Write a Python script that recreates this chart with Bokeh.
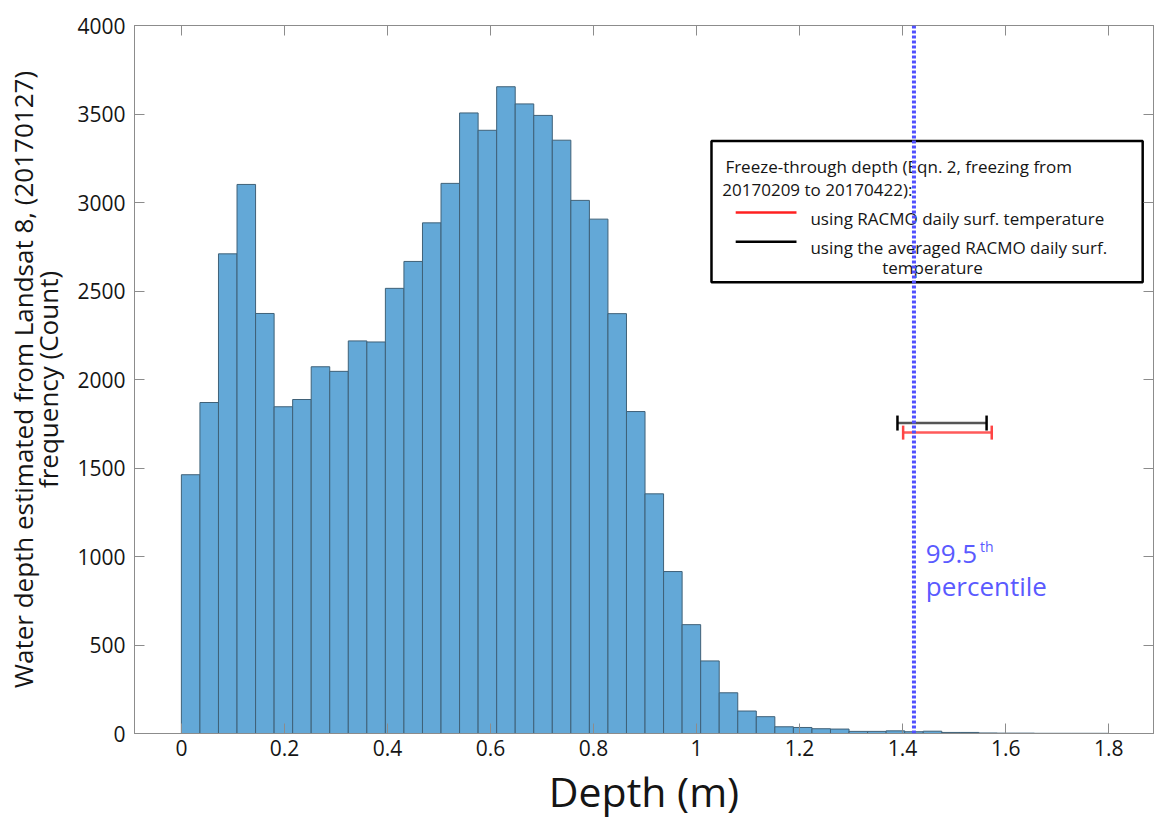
from bokeh.plotting import figure
from bokeh.models import (Span, Whisker, TeeHead, ColumnDataSource, LinearAxis,
                          Range1d, FixedTicker, CustomJSTickFormatter)
from bokeh.core.properties import value
from bokeh.embed import file_html
from bokeh.resources import INLINE

# ---------------- data ----------------
bin_edges = [0.000, 0.036, 0.072, 0.108, 0.144, 0.180, 0.216, 0.252, 0.288, 0.324,
             0.360, 0.396, 0.432, 0.468, 0.504, 0.540, 0.576, 0.612, 0.648, 0.684,
             0.720, 0.756, 0.792, 0.828, 0.864, 0.900, 0.936, 0.972, 1.008, 1.044,
             1.080, 1.116, 1.152, 1.188, 1.224, 1.260, 1.296, 1.332, 1.368, 1.404,
             1.440, 1.476, 1.512, 1.548, 1.584, 1.620, 1.656, 1.692, 1.728, 1.764,
             1.800]
counts = [1462, 1870, 2710, 3102, 2373, 1846, 1887, 2072, 2046, 2218,
          2212, 2515, 2667, 2885, 3108, 3506, 3408, 3654, 3557, 3492,
          3352, 3012, 2906, 2372, 1819, 1354, 915, 615, 410, 230,
          127, 95, 38, 34, 27, 25, 12, 12, 15, 10,
          13, 6, 6, 3, 2, 2, 1, 1, 1, 1]

x_ticks = [0, 0.2, 0.4, 0.6, 0.8, 1.0, 1.2, 1.4, 1.6, 1.8]
y_ticks = [0, 500, 1000, 1500, 2000, 2500, 3000, 3500, 4000]

percentile_995 = 1.422

freeze_base = [1754, 1700]            # vertical placement of the range bars (count axis)
freeze_lower = [1.390, 1.401]         # freeze-through depth lower (m)
freeze_upper = [1.563, 1.573]         # freeze-through depth upper (m)

FONT = value("Open Sans")
GRAY = "#8c8c8c"
TXT = "#151515"

p = figure(width=1156, height=821,
           x_range=Range1d(-0.091, 1.887), y_range=Range1d(0, 4000),
           output_backend="svg", toolbar_location=None,
           min_border_left=134, min_border_top=25, min_border_right=3, min_border_bottom=88)
p.grid.visible = False
p.outline_line_color = GRAY
p.background_fill_color = "white"
p.border_fill_color = "white"

# histogram bars
src = ColumnDataSource(dict(left=bin_edges[:-1], right=bin_edges[1:], top=counts))
p.quad(left="left", right="right", bottom=0, top="top", source=src,
       fill_color="#63a8d7", line_color="#3f6178", line_width=1)

# 99.5th percentile line
p.add_layout(Span(location=percentile_995, dimension="height", line_color="#5050ff",
                  line_width=4, line_dash="3 2"))

# freeze-through depth ranges
w_black = Whisker(source=ColumnDataSource(dict(base=[freeze_base[0]], lower=[freeze_lower[0]],
                                               upper=[freeze_upper[0]])),
                  base="base", lower="lower", upper="upper", dimension="width",
                  line_color="#555555", line_width=2.5,
                  upper_head=TeeHead(size=15, line_color="black", line_width=2.5),
                  lower_head=TeeHead(size=15, line_color="black", line_width=2.5))
w_red = Whisker(source=ColumnDataSource(dict(base=[freeze_base[1]], lower=[freeze_lower[1]],
                                             upper=[freeze_upper[1]])),
                base="base", lower="lower", upper="upper", dimension="width",
                line_color="#ff5a5a", line_width=2.5,
                upper_head=TeeHead(size=14, line_color="#ff4444", line_width=2.5),
                lower_head=TeeHead(size=14, line_color="#ff4444", line_width=2.5))
p.add_layout(w_black)
p.add_layout(w_red)

# percentile text
p.text(x=[1.445], y=[1015], text=["99.5"], text_font=FONT, text_font_size="26px",
       text_color="#5a5aff", text_baseline="alphabetic", text_align="left")
p.text(x=[1.550], y=[1058], text=["th"], text_font=FONT, text_font_size="14px",
       text_color="#5a5aff", text_baseline="alphabetic", text_align="left")
p.text(x=[1.445], y=[833], text=["percentile"], text_font=FONT, text_font_size="26px",
       text_color="#5a5aff", text_baseline="alphabetic", text_align="left")

# legend box (drawn by hand)
p.quad(left=[1.029], right=[1.866], bottom=[2550], top=[3348],
       fill_color="white", line_color="black", line_width=2.5)
p.text(x=[1.056, 1.050], y=[3201, 3071],
       text=["Freeze-through depth (Eqn. 2, freezing from", "20170209 to 20170422):"],
       text_font=FONT, text_font_size="17px", text_color=TXT,
       text_baseline="alphabetic", text_align="left")
p.segment(x0=[1.076], x1=[1.194], y0=[2944], y1=[2944], line_color="#ff2020", line_width=2.5)
p.segment(x0=[1.076], x1=[1.194], y0=[2778], y1=[2778], line_color="black", line_width=2.5)
p.text(x=[1.221, 1.221], y=[2912, 2748],
       text=["using RACMO daily surf. temperature", "using the averaged RACMO daily surf."],
       text_font=FONT, text_font_size="17px", text_color=TXT,
       text_baseline="alphabetic", text_align="left")
p.text(x=[1.458], y=[2635], text=["temperature"],
       text_font=FONT, text_font_size="17px", text_color=TXT,
       text_baseline="alphabetic", text_align="center")

# axes
def style_axis(ax):
    ax.axis_line_color = GRAY
    ax.major_tick_line_color = GRAY
    ax.major_tick_in = 10
    ax.major_tick_out = 0
    ax.minor_tick_line_color = None
    ax.major_label_text_font = "Open Sans"
    ax.major_label_text_color = TXT

xa = p.xaxis[0]
xa.ticker = FixedTicker(ticks=x_ticks)
xa.major_label_overrides = {0: "0", 1.0: "1"}
style_axis(xa)
xa.major_label_text_font_size = "21px"
xa.major_label_standoff = 6
xa.axis_label = "Depth (m)"
xa.axis_label_text_font = "Open Sans"
xa.axis_label_text_font_style = "normal"
xa.axis_label_text_font_size = "41px"
xa.axis_label_text_color = TXT
xa.axis_label_standoff = 4

ya = p.yaxis[0]
ya.ticker = FixedTicker(ticks=y_ticks)
style_axis(ya)
ya.major_label_text_font_size = "21px"
ya.major_label_standoff = 9
ya.axis_label = "Water depth estimated from Landsat 8, (20170127)\nfrequency (Count)"
ya.axis_label_text_font = "Open Sans"
ya.axis_label_text_font_style = "normal"
ya.axis_label_text_font_size = "26px"
ya.axis_label_text_line_height = 0.7
ya.axis_label_text_color = TXT
ya.axis_label_standoff = 8

blank = CustomJSTickFormatter(code="return ''")
top_ax = LinearAxis(ticker=FixedTicker(ticks=x_ticks), formatter=blank,
                    major_label_text_font_size="1px", major_label_standoff=0)
style_axis(top_ax)
p.add_layout(top_ax, "above")
right_ax = LinearAxis(ticker=FixedTicker(ticks=y_ticks), formatter=blank,
                      major_label_text_font_size="1px", major_label_standoff=0)
style_axis(right_ax)
p.add_layout(right_ax, "right")

open("out.html", "w").write(file_html(p, INLINE))
